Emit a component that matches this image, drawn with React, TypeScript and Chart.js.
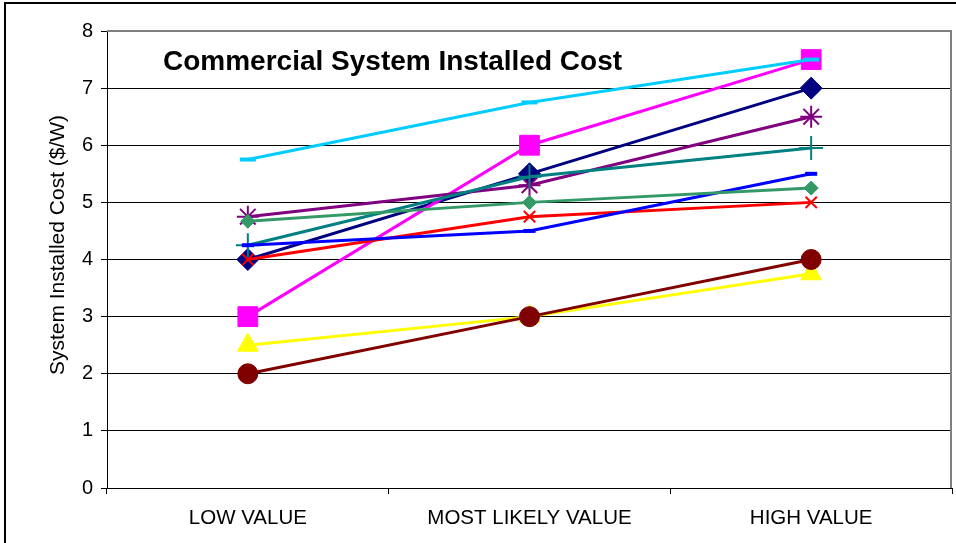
import React, { useEffect, useRef } from 'react';
import { Chart, registerables } from 'chart.js';

Chart.register(...registerables);

const categories = ['LOW VALUE', 'MOST LIKELY VALUE', 'HIGH VALUE'];
const yTickValues = [0, 1, 2, 3, 4, 5, 6, 7, 8];
const chartTitle = 'Commercial System Installed Cost';
const yAxisTitle = 'System Installed Cost ($/W)';

const navySeries = [4, 5.5, 7];
const magentaSeries = [3, 6, 7.5];
const yellowSeries = [2.5, 3, 3.75];
const redSeries = [4, 4.75, 5];
const purpleSeries = [4.75, 5.3, 6.5];
const maroonSeries = [2, 3, 4];
const tealSeries = [4.25, 5.45, 5.95];
const blueSeries = [4.25, 4.5, 5.5];
const skyBlueSeries = [5.75, 6.75, 7.5];
const greenSeries = [4.67, 5, 5.25];

type SeriesStyle = {
  data: number[];
  color: string;
  pointStyle: string;
  radius: number;
  pointBorder: number;
  filled: boolean;
};

const seriesList: SeriesStyle[] = [
  { data: navySeries, color: '#000080', pointStyle: 'rectRot', radius: 11, pointBorder: 1, filled: true },
  { data: magentaSeries, color: '#FF00FF', pointStyle: 'rect', radius: 14, pointBorder: 1, filled: true },
  { data: yellowSeries, color: '#FFFF00', pointStyle: 'triangle', radius: 12, pointBorder: 1, filled: true },
  { data: redSeries, color: '#FF0000', pointStyle: 'crossRot', radius: 8, pointBorder: 2, filled: false },
  { data: purpleSeries, color: '#800080', pointStyle: 'star', radius: 11, pointBorder: 2, filled: false },
  { data: maroonSeries, color: '#800000', pointStyle: 'circle', radius: 10, pointBorder: 1, filled: true },
  { data: tealSeries, color: '#008080', pointStyle: 'cross', radius: 12, pointBorder: 2, filled: false },
  { data: blueSeries, color: '#0000FF', pointStyle: 'line', radius: 6, pointBorder: 4, filled: false },
  { data: skyBlueSeries, color: '#00CCFF', pointStyle: 'line', radius: 8, pointBorder: 4, filled: false },
  { data: greenSeries, color: '#339966', pointStyle: 'rectRot', radius: 7, pointBorder: 1, filled: true },
];

const framePlugin = {
  id: 'framePlugin',
  beforeDraw(chart: any) {
    const { ctx, width, height } = chart;
    ctx.save();
    ctx.fillStyle = '#ffffff';
    ctx.fillRect(0, 0, width, height);
    ctx.strokeStyle = '#000000';
    ctx.lineWidth = 2;
    ctx.beginPath();
    ctx.moveTo(5, height + 5);
    ctx.lineTo(5, 3);
    ctx.lineTo(width + 5, 3);
    ctx.stroke();
    ctx.restore();
  },
  afterDraw(chart: any) {
    const { ctx, chartArea } = chart;
    ctx.save();
    ctx.strokeStyle = '#808080';
    ctx.lineWidth = 2;
    ctx.beginPath();
    ctx.moveTo(chartArea.left, chartArea.top);
    ctx.lineTo(chartArea.right - 1, chartArea.top);
    ctx.lineTo(chartArea.right - 1, chartArea.bottom);
    ctx.stroke();
    // chart title inside plot area
    ctx.fillStyle = '#000000';
    ctx.font = 'bold 28px "Liberation Sans", Arial, sans-serif';
    ctx.textAlign = 'left';
    ctx.textBaseline = 'middle';
    ctx.fillText(chartTitle, 163, 62);
    // y axis title
    ctx.font = '21px "Liberation Sans", Arial, sans-serif';
    ctx.translate(58, 245);
    ctx.rotate(-Math.PI / 2);
    ctx.textAlign = 'center';
    ctx.textBaseline = 'middle';
    ctx.fillText(yAxisTitle, 0, 0);
    ctx.restore();
  },
};

export default function App() {
  const canvasRef = useRef<HTMLCanvasElement | null>(null);

  useEffect(() => {
    if (!canvasRef.current) return;
    const n = seriesList.length;
    const chart = new Chart(canvasRef.current, {
      type: 'line',
      data: {
        labels: categories,
        datasets: seriesList.map((s, i) => ({
          label: 'Series ' + (i + 1),
          data: s.data,
          borderColor: s.color,
          backgroundColor: s.color,
          borderWidth: 3,
          pointStyle: s.pointStyle as any,
          pointRadius: s.radius,
          pointHoverRadius: s.radius,
          pointBorderWidth: s.pointBorder,
          pointBorderColor: s.color,
          pointBackgroundColor: s.filled ? s.color : 'rgba(0,0,0,0)',
          tension: 0,
          order: n - 1 - i,
          clip: false as any,
        })),
      },
      options: {
        responsive: false,
        animation: false,
        devicePixelRatio: 1,
        layout: { autoPadding: false, padding: { top: 31, right: 4, left: 0, bottom: 0 } },
        plugins: {
          legend: { display: false },
          title: { display: false },
          tooltip: { enabled: false },
        },
        scales: {
          x: {
            type: 'category',
            offset: true,
            grid: {
              offset: true,
              drawOnChartArea: false,
              tickLength: 6,
              color: '#000000',
              lineWidth: 1,
            },
            border: { color: '#000000', width: 1 },
            ticks: {
              color: '#000000',
              font: { family: '"Liberation Sans", Arial, sans-serif', size: 20.5 },
              padding: 12,
              maxRotation: 0,
              autoSkip: false,
            },
            afterFit: (scale: any) => {
              scale.height = 55;
              scale.paddingLeft = 0;
              scale.paddingRight = 0;
            },
          },
          y: {
            min: 0,
            max: 8,
            afterBuildTicks: (scale: any) => {
              scale.ticks = yTickValues.map((v) => ({ value: v }));
            },
            grid: {
              color: (ctx: any) => (ctx.tick && ctx.tick.value === 8 ? '#808080' : '#000000'),
              lineWidth: 1,
              tickLength: 6,
              tickColor: '#000000',
            },
            border: { color: '#000000', width: 1 },
            ticks: {
              color: '#000000',
              font: { family: '"Liberation Sans", Arial, sans-serif', size: 20 },
              padding: 8,
            },
            afterFit: (scale: any) => {
              scale.width = 107;
              scale.paddingTop = 0;
              scale.paddingBottom = 0;
            },
          },
        },
      },
      plugins: [framePlugin],
    });
    return () => chart.destroy();
  }, []);

  return (
    <div style={{ position: 'absolute', left: 0, top: 0, width: 956, height: 543 }}>
      <canvas ref={canvasRef} width={956} height={543} style={{ display: 'block' }} />
    </div>
  );
}
